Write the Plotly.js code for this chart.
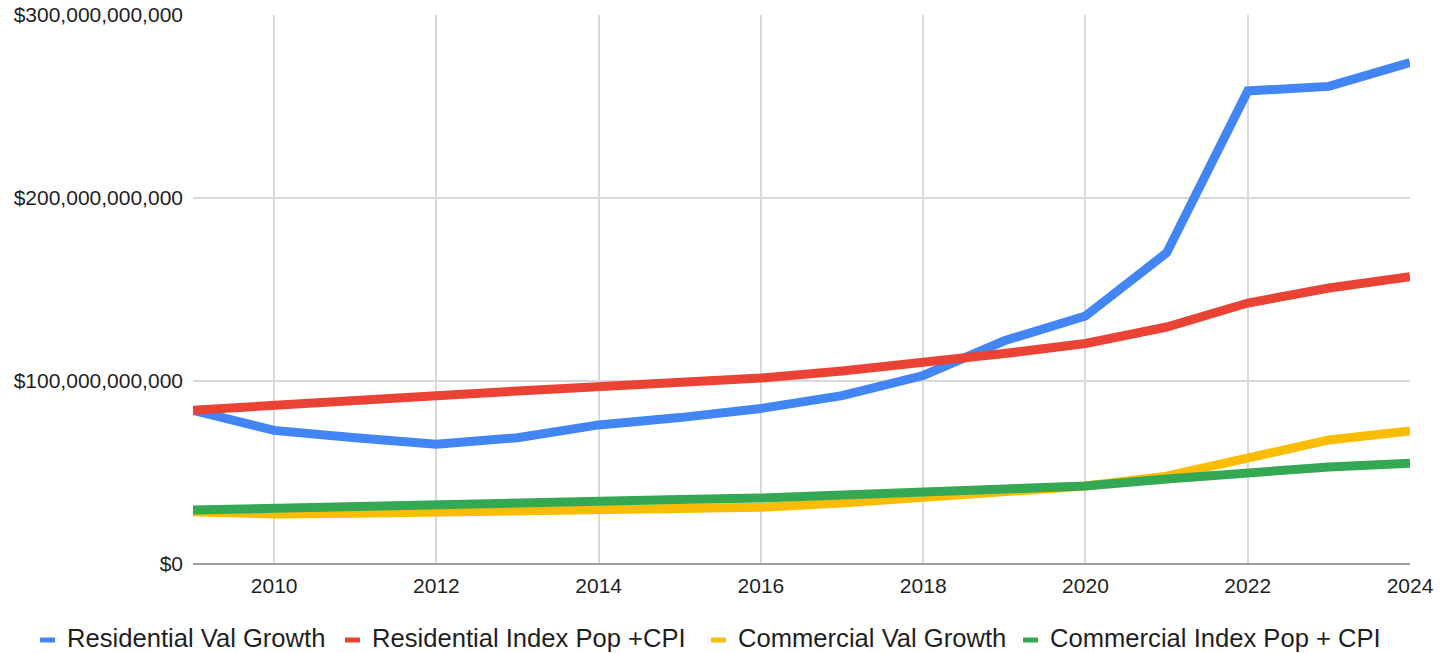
<!DOCTYPE html>
<html>
<head>
<meta charset="utf-8">
<script src="https://cdn.plot.ly/plotly-3.0.1.min.js"></script>
<style>
  html, body { margin: 0; padding: 0; background: #fff; }
  #chart { width: 1441px; height: 653px; }
</style>
</head>
<body>
<div id="chart"></div>
<script>
// Years on the x axis
const years = [2009, 2010, 2011, 2012, 2013, 2014, 2015, 2016, 2017, 2018, 2019, 2020, 2021, 2022, 2023, 2024];

// Series values, in billions of dollars
const residentialValGrowth = [84, 73, 69, 65.5, 69, 76, 80, 85, 92, 103, 122, 135.5, 170, 258.5, 261, 274];
const residentialIndexPopCPI = [84, 87, 89.6, 92, 94.5, 97, 99, 101.6, 105.5, 110, 115, 120.5, 129.5, 142.6, 150.8, 157];
const commercialValGrowth = [28.5, 27.3, 27.8, 28.4, 28.7, 29, 30, 31, 33.3, 36, 39.3, 42.6, 48, 58, 67.8, 72.7];
const commercialIndexPopCPI = [29.5, 30.6, 31.8, 32.8, 33.6, 34.4, 35.2, 36, 37.5, 39, 40.8, 42.6, 46.5, 50.3, 53, 55];

// Series names and colours
const seriesNames = ["Residential Val Growth", "Residential Index Pop +CPI", "Commercial Val Growth", "Commercial Index Pop + CPI"];
const seriesColors = ["#4285F4", "#EA4335", "#FBBC04", "#34A853"];

// Tick values and labels
const xTicks = [2010, 2012, 2014, 2016, 2018, 2020, 2022, 2024];
const yTicks = [0, 100e9, 200e9, 300e9];
const yTickLabels = ["$0", "$100,000,000,000", "$200,000,000,000", "$300,000,000,000"];

const allSeries = [residentialValGrowth, residentialIndexPopCPI, commercialValGrowth, commercialIndexPopCPI];
const BILLION = 1e9;

const traces = allSeries.map((vals, i) => ({
  type: 'scatter',
  mode: 'lines',
  name: seriesNames[i],
  x: years,
  y: vals.map(v => v * BILLION),
  line: { color: seriesColors[i], width: 9 },
  hoverinfo: 'x+y+name'
}));

const font = "Arial, 'Liberation Sans', sans-serif";
const textColor = '#1f1f1f';

// Plot-area geometry (pixels) used to place the custom legend
const W = 1441, H = 653;
const M = { l: 193, r: 31, t: 15, b: 89 };
const plotW = W - M.l - M.r;
const plotH = H - M.t - M.b;
const px2x = px => (px - M.l) / plotW;
const py2y = py => (H - M.b - py) / plotH;

// Custom horizontal legend: item start pixels (symbol left edge)
const legendStarts = [40, 345, 711, 1023];
const legendTextOffset = 26;
const legendSymbolW = 15;
const legendTextY = 638;
const legendSymbolY = 640;

const shapes = seriesNames.map((n, i) => ({
  type: 'rect',
  xref: 'paper', yref: 'paper',
  x0: px2x(legendStarts[i]), x1: px2x(legendStarts[i] + legendSymbolW),
  y0: py2y(legendSymbolY + 2.5), y1: py2y(legendSymbolY - 2.5),
  fillcolor: seriesColors[i],
  line: { width: 0 },
  layer: 'above'
}));

const annotations = seriesNames.map((n, i) => ({
  xref: 'paper', yref: 'paper',
  x: px2x(legendStarts[i] + legendTextOffset),
  y: py2y(legendTextY),
  xanchor: 'left', yanchor: 'middle',
  text: n,
  showarrow: false,
  borderpad: 0,
  font: { family: font, size: 25.6, color: textColor }
}));

const layout = {
  width: W,
  height: H,
  margin: M,
  paper_bgcolor: '#ffffff',
  plot_bgcolor: '#ffffff',
  font: { family: font, size: 21, color: textColor },
  showlegend: false,
  shapes: shapes,
  annotations: annotations,
  xaxis: {
    range: [2009, 2024],
    tickvals: xTicks,
    ticktext: xTicks.map(String),
    showgrid: true,
    gridcolor: '#d9d9d9',
    gridwidth: 1.5,
    zeroline: false,
    showline: false,
    ticks: '',
    ticklabelstandoff: 7,
    tickfont: { family: font, size: 21, color: textColor }
  },
  yaxis: {
    range: [0, 300e9],
    tickvals: yTicks,
    ticktext: yTickLabels,
    showgrid: true,
    gridcolor: '#d9d9d9',
    gridwidth: 1.5,
    zeroline: true,
    zerolinecolor: '#9e9e9e',
    zerolinewidth: 2,
    showline: false,
    ticks: '',
    ticklabelstandoff: 9,
    tickfont: { family: font, size: 21, color: textColor }
  }
};

Plotly.newPlot('chart', traces, layout, { displayModeBar: false });
</script>
</body>
</html>
